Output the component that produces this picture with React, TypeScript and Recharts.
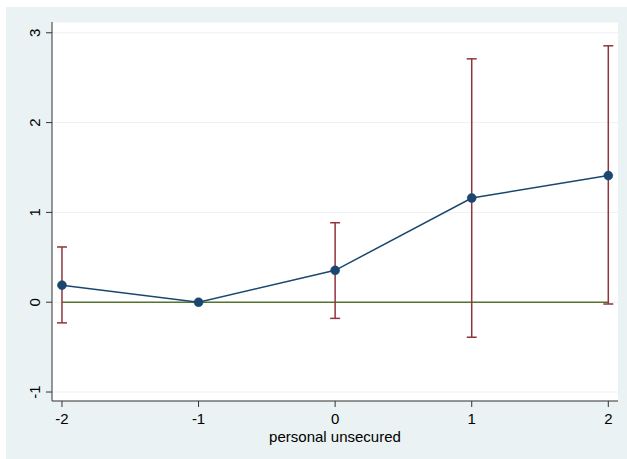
import {
  CartesianGrid,
  ComposedChart,
  ErrorBar,
  Line,
  ReferenceLine,
  Scatter,
  XAxis,
  YAxis,
} from 'recharts'

// event time on the x axis, point estimate with 95% CI
const xVals = [-2, -1, 0, 1, 2]
const estimates = [0.19, 0, 0.355, 1.16, 1.41]
const lowerCI: (number | null)[] = [-0.23, null, -0.18, -0.39, -0.02]
const upperCI: (number | null)[] = [0.615, null, 0.885, 2.71, 2.855]
const xTicks = [-2, -1, 0, 1, 2]
const yTicks = [-1, 0, 1, 2, 3]
const xTitle = 'personal unsecured'

const rows = xVals.map((x, i) => ({ x, est: estimates[i] }))
const ciRows = xVals
  .map((x, i) => ({
    x,
    est: estimates[i],
    lo: lowerCI[i],
    hi: upperCI[i],
  }))
  .filter((r) => r.lo !== null && r.hi !== null)
  .map((r) => ({ x: r.x, est: r.est, err: [r.est - (r.lo as number), (r.hi as number) - r.est] }))

const FONT = '"Liberation Sans", Arial, Helvetica, sans-serif'

const YTick = (props: any) => {
  const { x, y, payload } = props
  const bx = x - 4
  return (
    <text
      x={bx}
      y={y}
      transform={`rotate(-90, ${bx}, ${y})`}
      textAnchor="middle"
      fontSize={15}
      fontFamily={FONT}
      fill="#000"
    >
      {payload.value}
    </text>
  )
}

export default function App() {
  return (
    <div style={{ position: 'absolute', left: 0, top: 0, width: 627, height: 459, background: '#fff' }}>
      <div
        style={{ position: 'absolute', left: 6, top: 7, width: 621, height: 452, background: '#eaf2f3' }}
      />
      <div style={{ position: 'absolute', left: 0, top: 0 }}>
        <ComposedChart
          width={627}
          height={459}
          data={rows}
          margin={{ top: 22, right: 9, bottom: 0, left: 0 }}
        >
          <CartesianGrid vertical={false} stroke="#eaf2f3" fill="#fff" />
          <XAxis
            dataKey="x"
            type="number"
            domain={[-2.073, 2.071]}
            ticks={xTicks}
            height={58}
            tickSize={6}
            tickMargin={6}
            stroke="#333"
            tick={{ fontSize: 15, fontFamily: FONT, fill: '#000' }}
            label={{
              value: xTitle,
              position: 'insideBottom',
              offset: 17,
              fontSize: 15,
              fontFamily: FONT,
              fill: '#000',
            }}
          />
          <YAxis
            type="number"
            domain={[-1.1, 3.12]}
            ticks={yTicks}
            width={52}
            tickSize={6}
            stroke="#333"
            tick={<YTick />}
          />
          <ReferenceLine
            segment={[
              { x: xVals[0], y: 0 },
              { x: xVals[xVals.length - 1], y: 0 },
            ]}
            stroke="#55752f"
            strokeWidth={1.5}
          />
          <Scatter data={ciRows} dataKey="est" shape={() => <g />} isAnimationActive={false}>
            <ErrorBar
              dataKey="err"
              direction="y"
              width={5}
              stroke="#90353b"
              strokeWidth={1.5}
              isAnimationActive={false}
            />
          </Scatter>
          <Line
            dataKey="est"
            type="linear"
            stroke="#1a476f"
            strokeWidth={1.5}
            dot={{ r: 4.5, fill: '#1a476f', stroke: '#1a476f', strokeWidth: 0.5 }}
            activeDot={false}
            isAnimationActive={false}
          />
        </ComposedChart>
      </div>
    </div>
  )
}
